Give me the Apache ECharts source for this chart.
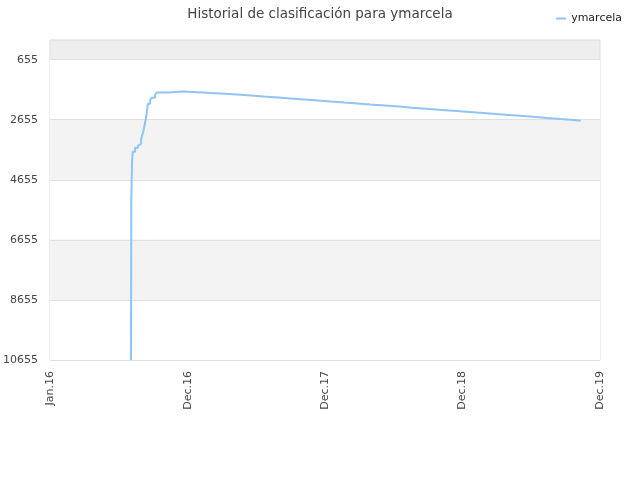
<!DOCTYPE html>
<html>
<head>
<meta charset="utf-8">
<title>Historial de clasificación</title>
<script src="https://cdn.jsdelivr.net/npm/echarts@6/dist/echarts.min.js"></script>
<style>
  html, body { margin: 0; padding: 0; background: #fff; }
  #chart { width: 640px; height: 480px; }
</style>
</head>
<body>
<div id="chart"></div>
<script>
// datos
var seriesName = "ymarcela";
var dates = [
    "2016-07-17", "2016-07-18", "2016-07-20", "2016-07-22", "2016-07-28",
    "2016-08-05", "2016-08-10", "2016-08-13", "2016-08-15", "2016-08-18",
    "2016-08-21", "2016-08-23", "2016-08-26", "2016-08-29", "2016-08-31",
    "2016-09-06", "2016-09-11", "2016-09-19", "2016-09-24", "2016-10-23",
    "2016-12-02", "2017-01-22", "2017-03-13", "2017-04-25", "2017-06-01",
    "2017-07-05", "2017-08-12", "2017-09-15", "2017-10-20", "2017-11-26",
    "2017-12-30", "2018-02-03", "2018-03-12", "2018-04-13", "2018-05-23",
    "2018-06-29", "2018-08-02", "2018-09-09", "2018-10-13", "2018-11-19",
    "2018-12-24", "2019-01-30", "2019-03-06", "2019-04-09", "2019-05-16",
    "2019-06-20", "2019-07-27", "2019-08-31", "2019-10-07", "2019-10-25"
];
var ranks = [
    10655, 5320, 3990, 3720, 3590,
    3520, 3455, 3320, 3190, 3090,
    2920, 2790, 2590, 2320, 2120,
    1990, 1920, 1820, 1745, 1712,
    1745, 1778, 1812, 1845, 1878,
    1912, 1945, 1978, 2012, 2045,
    2078, 2112, 2145, 2178, 2212,
    2255, 2288, 2322, 2355, 2388,
    2422, 2455, 2488, 2522, 2555,
    2598, 2632, 2665, 2688, 2688
];
var yTicks = [655, 2655, 4655, 6655, 8655, 10655];
var xTickDates = ["2015-12-15", "2016-12-15", "2017-12-15", "2018-12-15", "2019-12-15"];
var xTickLabels = ["Jan.16", "Dec.16", "Dec.17", "Dec.18", "Dec.19"];

function ts(s) {
    var p = s.split("-");
    return Date.UTC(+p[0], +p[1] - 1, +p[2]);
}

var xTickValues = xTickDates.map(ts);
var points = dates.map(function (d, i) { return [ts(d), ranks[i]]; });

var myChart = echarts.init(document.getElementById("chart"));
var option = {
    animation: false,
    title: {
        text: "Historial de clasificación para ymarcela",
        left: "center",
        top: 2,
        textStyle: {
            color: "#444",
            fontSize: 13.5,
            fontWeight: "normal",
            fontFamily: "DejaVu Sans"
        }
    },
    legend: {
        right: 13,
        top: 8,
        itemWidth: 10,
        itemHeight: 2,
        itemGap: 8,
        textStyle: { color: "#222", fontSize: 11, fontFamily: "DejaVu Sans" },
        data: [seriesName]
    },
    grid: {
        left: 50,
        right: 40,
        top: 40,
        bottom: 120,
        outerBoundsMode: "none",
        containLabel: false,
        show: true,
        backgroundColor: "#eeeeee",
        borderColor: "#dddddd",
        borderWidth: 1
    },
    xAxis: {
        // fechas como timestamps en un eje de valores
        type: "value",
        min: xTickValues[0],
        max: xTickValues[xTickValues.length - 1],
        axisLine: { show: false },
        axisTick: { show: false, customValues: xTickValues },
        splitLine: { show: false },
        axisLabel: {
            customValues: xTickValues,
            rotate: 90,
            margin: 11,
            color: "#444",
            fontSize: 11,
            fontFamily: "DejaVu Sans",
            formatter: function (val) {
                var i = xTickValues.indexOf(val);
                return i >= 0 ? xTickLabels[i] : "";
            }
        }
    },
    yAxis: {
        type: "value",
        inverse: true,
        min: 0,
        max: 10655,
        axisLine: { show: false },
        axisTick: { show: false, customValues: yTicks },
        axisLabel: {
            customValues: yTicks,
            color: "#444",
            fontSize: 11,
            fontFamily: "DejaVu Sans",
            margin: 12,
            formatter: function (v) { return String(v); }
        },
        splitLine: {
            show: true,
            lineStyle: { color: "#e0e0e0", width: 1 }
        },
        splitArea: {
            show: true,
            areaStyle: { color: ["#ffffff", "#f3f3f3"] }
        }
    },
    series: [
        {
            name: seriesName,
            type: "line",
            step: "end",
            symbol: "none",
            data: points,
            lineStyle: { color: "#90c4f5", width: 2 },
            itemStyle: { color: "#90c4f5" }
        }
    ]
};
myChart.setOption(option);
</script>
</body>
</html>
